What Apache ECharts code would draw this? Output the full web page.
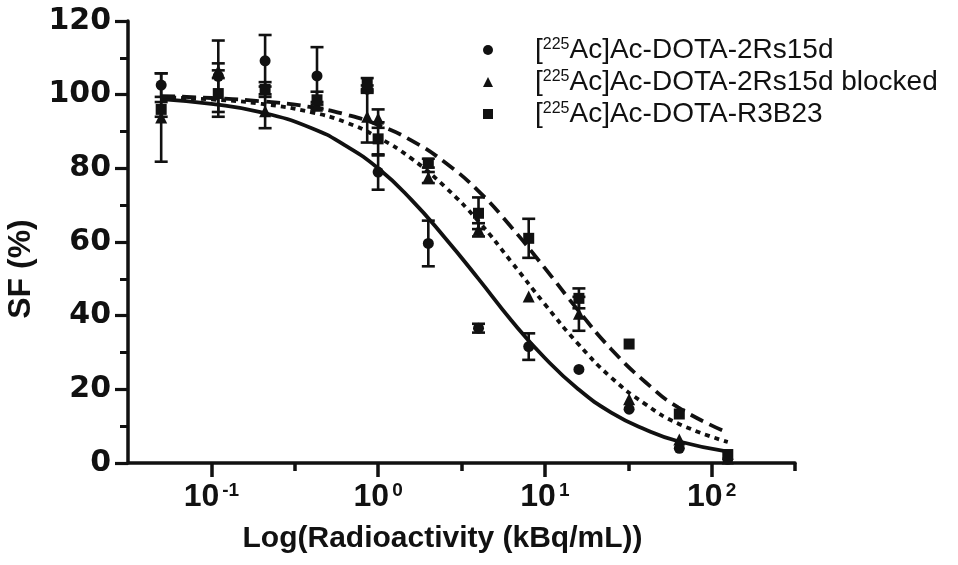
<!DOCTYPE html>
<html>
<head>
<meta charset="utf-8">
<script src="https://cdn.jsdelivr.net/npm/echarts@6/dist/echarts.min.js"></script>
<style>
  html, body { margin: 0; padding: 0; background: #fff; }
  #chart { width: 958px; height: 565px; }
</style>
</head>
<body>
<div id="chart"></div>
<script>
// concentrations in kBq/mL
const concentrations = [0.05, 0.11, 0.21, 0.43, 0.86, 1, 2, 4, 8, 16, 32, 64, 125];

const sf2Rs15d = [102.6, 105, 109.2, 105.1, 101.5, 79, 59.6, 36.6, 31.6, 25.4, 14.6, 4, 1];
const sd2Rs15d = [3.2, 9.7, 7, 7.8, 1, 4.8, 6.2, 1.2, 3.6, 0, 0, 0, 0];
const sfBlocked = [93.8, 106.5, 95.5, 97, 94, 93.5, 77.5, 63.3, 45.2, 40.5, 17.3, 6.4, 1.2];
const sdBlocked = [12, 2, 4.6, 1, 7, 2.5, 1.5, 1.8, 0, 4.6, 0, 0, 0];
const sfR3B23 = [96, 100.3, 101.4, 98.6, 103, 88, 81.4, 67.8, 61, 44.7, 32.3, 13.3, 2.3];
const sdR3B23 = [2, 6.3, 2, 2.2, 1.5, 4.5, 1.2, 4.3, 5.3, 2.7, 0, 0, 0];

// fitted curves
const fitX = [0.05, 0.1, 0.2, 0.4, 0.63, 1, 1.58, 2.5, 4, 6.3, 10, 15.8, 25, 40, 63, 125];
const fit2Rs15d = [98.8, 97.5, 95.2, 90.9, 86.3, 80, 71.5, 61.3, 50, 38.7, 28.5, 20.1, 13.7, 9.1, 5.9, 3.1];
const fitBlocked = [99.3, 98.7, 97.5, 95.2, 92.6, 88.4, 82.7, 75.1, 65.6, 54.6, 43.1, 32.4, 23.2, 16, 10.7, 5.7];
const fitR3B23 = [99.6, 99.1, 98.2, 96.6, 94.7, 91.8, 87.6, 81.7, 73.8, 64, 52.9, 41.5, 30.9, 22, 15.1, 8.2];

const seriesNames = ['[225Ac]Ac-DOTA-2Rs15d', '[225Ac]Ac-DOTA-2Rs15d blocked', '[225Ac]Ac-DOTA-R3B23'];
const decadeExponents = [-1, 0, 1, 2];
const halfDecadeExponents = [-0.5, 0.5, 1.5, 2.5];
const yTicks = [0, 20, 40, 60, 80, 100, 120];

const INK = '#111';
const chart = echarts.init(document.getElementById('chart'));

const lg = v => Math.log10(v);
const points = ys => concentrations.map((c, i) => [lg(c), ys[i]]);
const curve = ys => fitX.map((c, i) => [lg(c), ys[i]]);
const bars = (ys, sds) => concentrations
  .map((c, i) => [lg(c), ys[i], sds[i]])
  .filter(d => d[2] > 0);

function renderErrorBar(params, api) {
  const x = api.value(0), y = api.value(1), e = api.value(2);
  const hi = api.coord([x, y + e]);
  const lo = api.coord([x, y - e]);
  const cap = 6.5;
  const style = { stroke: INK, lineWidth: 2.6 };
  return {
    type: 'group',
    children: [
      { type: 'line', shape: { x1: hi[0], y1: hi[1], x2: lo[0], y2: lo[1] }, style },
      { type: 'line', shape: { x1: hi[0] - cap, y1: hi[1], x2: hi[0] + cap, y2: hi[1] }, style },
      { type: 'line', shape: { x1: lo[0] - cap, y1: lo[1], x2: lo[0] + cap, y2: lo[1] }, style },
    ],
  };
}

const symbols = ['circle', 'triangle', 'rect'];
const symbolSizes = [11, 12, 11];
const sfData = [sf2Rs15d, sfBlocked, sfR3B23];
const sdData = [sd2Rs15d, sdBlocked, sdR3B23];
const fitData = [fit2Rs15d, fitBlocked, fitR3B23];
const fitDash = ['solid', [5, 5], [14, 7]];

const series = [];
fitData.forEach((ys, i) => {
  series.push({
    type: 'line',
    data: curve(ys),
    smooth: true,
    showSymbol: false,
    silent: true,
    z: 2,
    lineStyle: { color: INK, width: 3.8, type: fitDash[i] },
  });
});
sdData.forEach((sds, i) => {
  series.push({
    type: 'custom',
    data: bars(sfData[i], sds),
    encode: { x: 0, y: 1 },
    renderItem: renderErrorBar,
    silent: true,
    z: 3,
  });
});
sfData.forEach((ys, i) => {
  series.push({
    name: seriesNames[i],
    type: 'scatter',
    data: points(ys),
    symbol: symbols[i],
    symbolSize: symbolSizes[i],
    itemStyle: { color: INK, opacity: 1 },
    z: 4,
  });
});

const option = {
  backgroundColor: '#fff',
  animation: false,
  grid: { left: 128, right: 163, top: 21, bottom: 102, outerBoundsMode: 'none' },
  legend: {
    orient: 'vertical',
    left: 478,
    top: 30,
    itemWidth: 10,
    itemHeight: 10,
    itemGap: 3,
    selectedMode: false,
    data: seriesNames.map((n, i) => ({ name: n, icon: symbols[i], itemStyle: { opacity: 1 } })),
    formatter: name => {
      const rest = name.replace('[225Ac]', '');
      return '{t|[}{s|225}{t|Ac]' + rest + '}';
    },
    textStyle: {
      padding: [0, 0, 0, 37],
      rich: {
        t: { fontFamily: 'Liberation Sans', fontSize: 28, color: INK, lineHeight: 30 },
        s: { fontFamily: 'Liberation Sans', fontSize: 16, color: INK, lineHeight: 30, verticalAlign: 'top', padding: [2, 0, 0, 0] },
      },
    },
  },
  xAxis: [
    {
      type: 'value',
      min: -1.5,
      max: 2.5,
      interval: 0.5,
      position: 'bottom',
      axisLine: { onZero: false, lineStyle: { color: INK, width: 3.5 } },
      axisTick: { show: true, customValues: decadeExponents, length: 14, lineStyle: { color: INK, width: 3.5 } },
      axisLabel: {
        customValues: decadeExponents,
        margin: 18,
        formatter: v => '{b|10}{s|' + v + '}',
        rich: {
          b: { fontFamily: 'Liberation Sans', fontWeight: 'bold', fontSize: 32, color: INK, lineHeight: 32 },
          s: { fontFamily: 'Liberation Sans', fontWeight: 'bold', fontSize: 19, color: INK, lineHeight: 32, verticalAlign: 'top', padding: [0, 0, 0, 3] },
        },
      },
      splitLine: { show: false },
      name: 'Log(Radioactivity (kBq/mL))',
      nameLocation: 'middle',
      nameGap: 61,
      nameTextStyle: {
        fontFamily: 'Liberation Sans', fontWeight: 'bold', fontSize: 30, color: INK,
        padding: [0, 38, 0, 0],
      },
    },
    {
      type: 'value',
      min: -1.5,
      max: 2.5,
      interval: 0.5,
      position: 'bottom',
      axisLine: { show: false, onZero: false },
      axisTick: { show: true, customValues: halfDecadeExponents, length: 8, lineStyle: { color: INK, width: 3.5 } },
      axisLabel: { show: false },
      splitLine: { show: false },
    },
  ],
  yAxis: {
    type: 'value',
    min: 0,
    max: 120,
    interval: 20,
    axisLine: { show: true, onZero: false, lineStyle: { color: INK, width: 3.5 } },
    axisTick: { show: true, length: 13, lineStyle: { color: INK, width: 3.2 } },
    minorTick: { show: true, splitNumber: 2, length: 8, lineStyle: { color: INK, width: 3 } },
    axisLabel: {
      customValues: yTicks,
      margin: 17,
      fontFamily: 'DejaVu Sans', fontWeight: 'bold', fontSize: 30, color: INK,
    },
    splitLine: { show: false },
    name: 'SF (%)',
    nameLocation: 'middle',
    nameRotate: 90,
    nameGap: 80,
    nameTextStyle: {
      fontFamily: 'Liberation Sans', fontWeight: 'bold', fontSize: 32, color: INK,
      padding: [0, 54, 0, 0],
    },
  },
  series,
};

chart.setOption(option);
</script>
</body>
</html>
